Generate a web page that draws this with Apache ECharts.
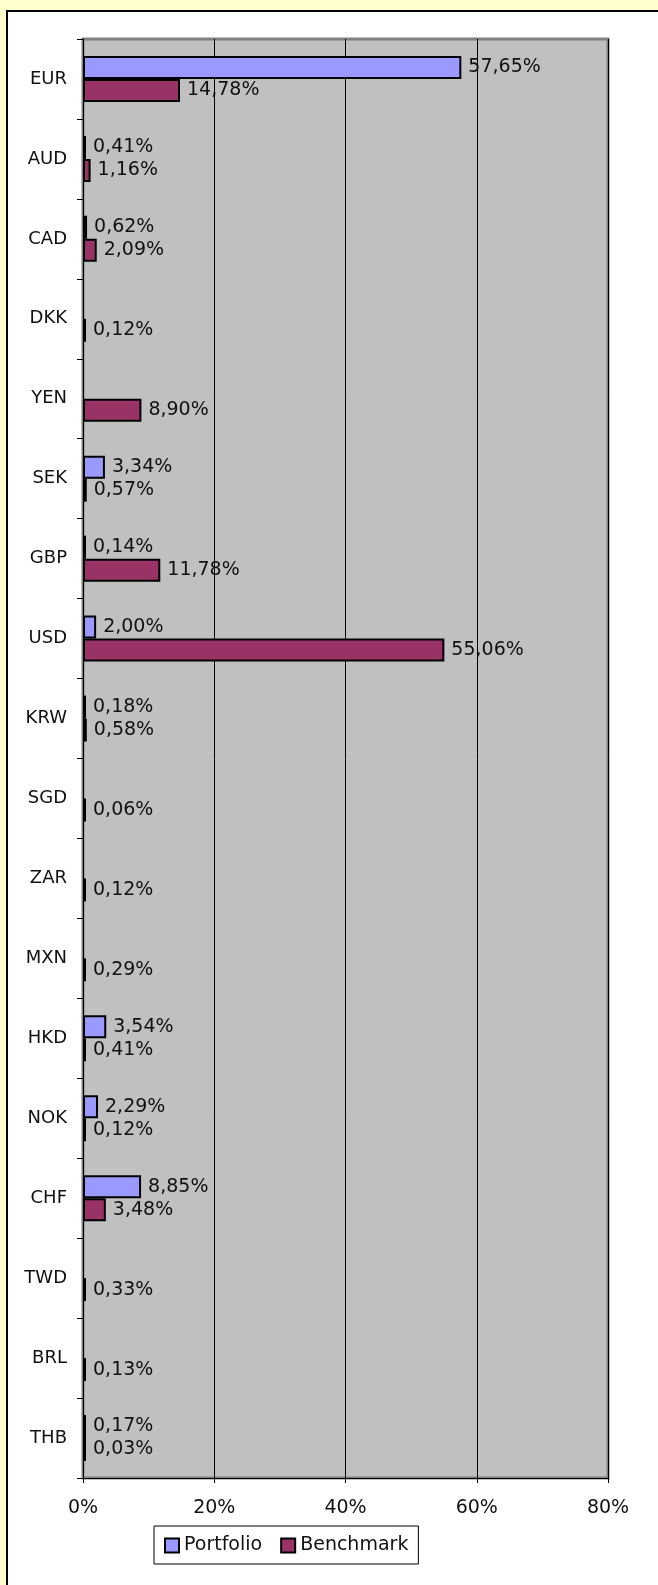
<!DOCTYPE html>
<html>
<head>
<meta charset="utf-8">
<script src="https://cdn.jsdelivr.net/npm/echarts@6/dist/echarts.min.js"></script>
<style>
  html, body {
    margin: 0;
    padding: 0;
    background: #ffffcc;
  }
  .frame {
    position: absolute;
    left: 6px;
    top: 10px;
    width: 700px;
    height: 1600px;
    background: #ffffff;
    border-left: 2px solid #000;
    border-top: 2px solid #000;
  }
  #main {
    position: absolute;
    left: 0;
    top: 0;
    width: 658px;
    height: 1585px;
  }
</style>
</head>
<body>
<div class="frame"></div>
<div id="main"></div>
<script>
  var currencies = ['EUR', 'AUD', 'CAD', 'DKK', 'YEN', 'SEK', 'GBP', 'USD', 'KRW',
    'SGD', 'ZAR', 'MXN', 'HKD', 'NOK', 'CHF', 'TWD', 'BRL', 'THB']
  var portfolio = [57.65, 0.41, 0.62, null, null, 3.34, 0.14, 2.00, 0.18,
    null, null, null, 3.54, 2.29, 8.85, null, null, 0.17]
  var benchmark = [14.78, 1.16, 2.09, 0.12, 8.90, 0.57, 11.78, 55.06, 0.58,
    0.06, 0.12, 0.29, 0.41, 0.12, 3.48, 0.33, 0.13, 0.03]
  var xTicks = [0, 20, 40, 60, 80]

  var font = 'DejaVu Sans'

  function pct(p) {
    return p.value.toFixed(2).replace('.', ',') + '%'
  }

  function makeSeries(name, values, color) {
    return {
      name: name,
      type: 'bar',
      data: values,
      barWidth: 23,
      barGap: '0%',
      barMinHeight: 3,
      itemStyle: {
        color: color,
        borderColor: '#000',
        borderWidth: 2
      },
      label: {
        show: true,
        position: 'right',
        distance: 7,
        color: '#111',
        fontFamily: font,
        fontSize: 19,
        formatter: pct
      }
    }
  }

  var chart = echarts.init(document.getElementById('main'))
  var option = {
    animation: false,
    grid: {
      left: 83,
      top: 39,
      right: 50,
      bottom: 107,
      show: true,
      backgroundColor: '#c0c0c0',
      borderColor: '#808080',
      borderWidth: 3
    },
    legend: {
      data: ['Portfolio', 'Benchmark'],
      left: 154,
      top: 1526,
      orient: 'horizontal',
      icon: 'rect',
      itemWidth: 14,
      itemHeight: 14,
      itemGap: 18,
      padding: [10, 10, 9, 10],
      borderColor: '#000',
      borderWidth: 1,
      backgroundColor: '#fff',
      textStyle: {
        color: '#111',
        fontFamily: font,
        fontSize: 19
      }
    },
    xAxis: {
      type: 'value',
      min: xTicks[0],
      max: xTicks[xTicks.length - 1],
      interval: 20,
      axisLine: { show: true, lineStyle: { color: '#000', width: 1 } },
      axisTick: { show: true, length: 5, lineStyle: { color: '#000' } },
      splitLine: { show: true, lineStyle: { color: '#000', width: 1 } },
      axisLabel: {
        color: '#111',
        fontFamily: font,
        fontSize: 19,
        margin: 21,
        formatter: '{value}%'
      }
    },
    yAxis: {
      type: 'category',
      inverse: true,
      data: currencies,
      axisLine: { show: true, lineStyle: { color: '#000', width: 1 } },
      axisTick: { show: true, length: 6, lineStyle: { color: '#000' } },
      axisLabel: {
        color: '#111',
        fontFamily: font,
        fontSize: 18,
        margin: 16
      }
    },
    series: [
      makeSeries('Portfolio', portfolio, '#9999ff'),
      makeSeries('Benchmark', benchmark, '#993366')
    ]
  }
  chart.setOption(option)
</script>
</body>
</html>
